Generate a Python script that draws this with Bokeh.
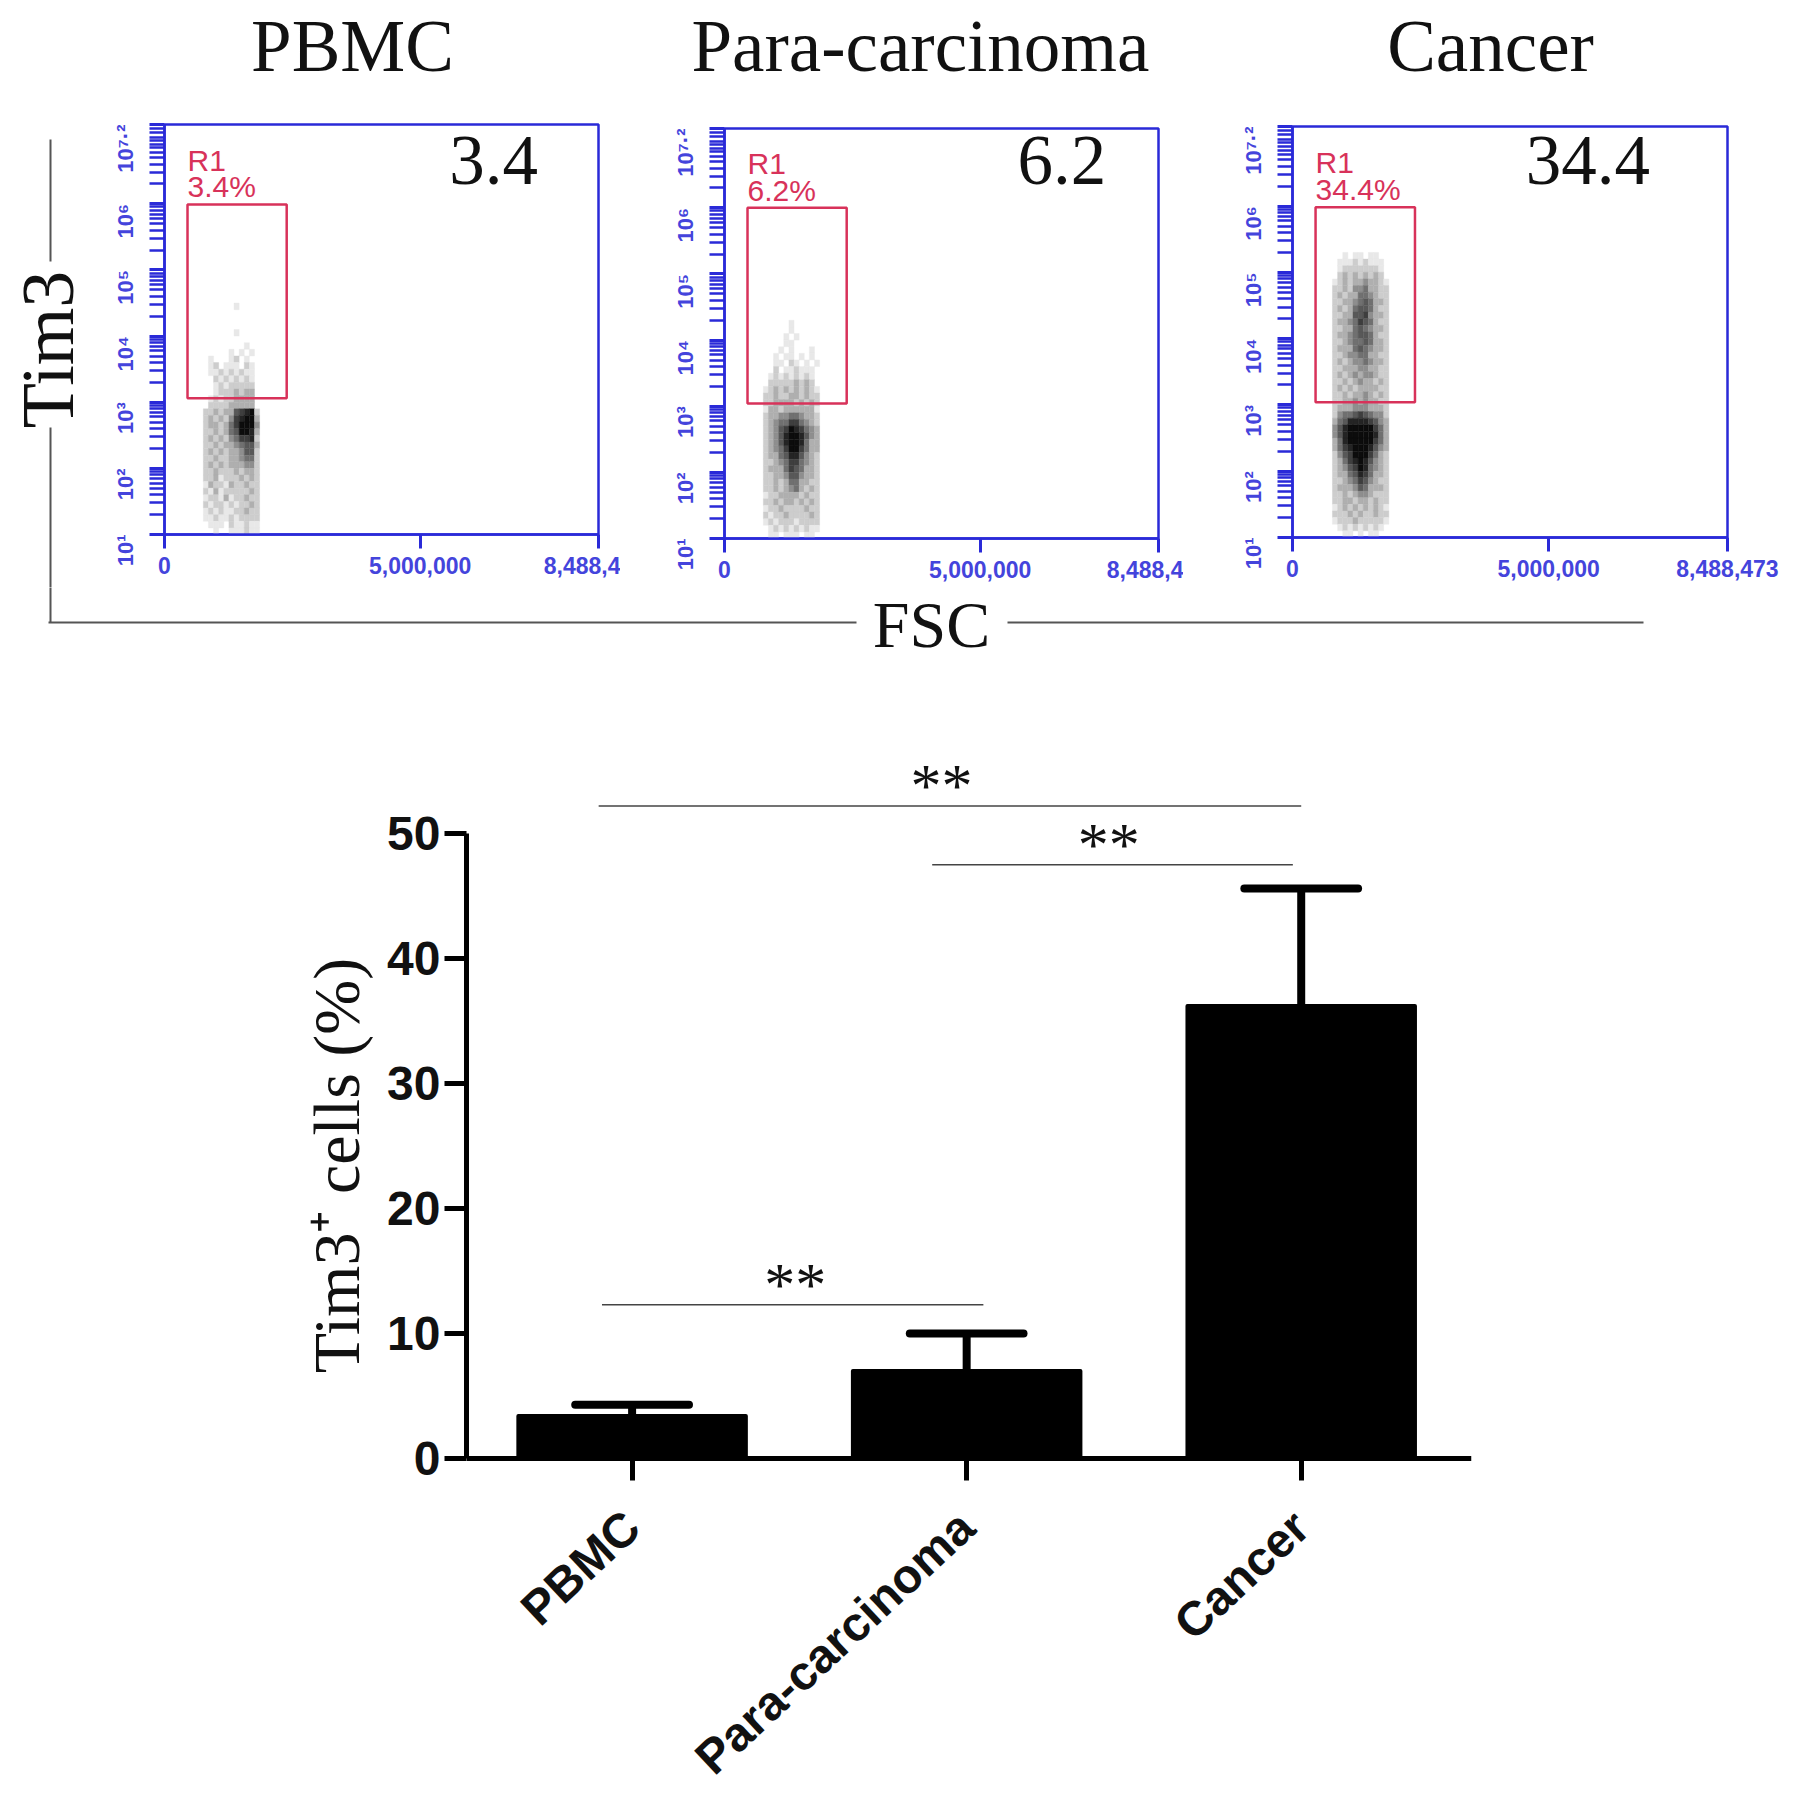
from math import pi
from bokeh.plotting import figure
from bokeh.layouts import column, row
from bokeh.models import Range1d, FixedTicker, Label, NumeralTickFormatter
from bokeh.core.properties import value
from bokeh.embed import file_html
from bokeh.resources import INLINE

SERIF = "Liberation Serif"
SANS = "Liberation Sans"
BLUE = "#2a2ad8"
RED = "#d8325a"
INK = "#111111"
GRAY = "#555555"

# ---- flow panels -----
panel_names = ["PBMC", "Para-carcinoma", "Cancer"]
panel_percent = [3.4, 6.2, 34.4]
fsc_ticks = [0, 5000000, 8488473]
fsc_tick_last = ["8,488,4", "8,488,4", "8,488,473"]
fsc_max = 8488473
exp_max = 7.2
tim3_major = [10, 100, 1000, 10000, 100000, 1000000, 10 ** 7.2]
tim3_labels = ["10¹", "10²", "10³", "10⁴", "10⁵", "10⁶", "10⁷·²"]
gate_fsc = [450000, 2390000]
gate_tim3 = [[10 ** 3.06, 10 ** 5.99], [10 ** 3.04, 10 ** 6.0], [10 ** 3.04, 10 ** 5.98]]
percent_fsc = [5570000, 5730000, 4550000]
percent_exp = [6.66, 6.72, 6.69]
title_center = [352, 920, 1490]

# density levels 0-9: rows top to bottom in 0.1-decade bins
density_start_exp = [4.5, 4.3, 5.4]
density_start_fsc = [760000, 760000, 780000]
density_bin_fsc = 100000
density_pbmc = [
    "00000010000", "00000000000", "00000000000", "00000000000", "00000010000",
    "00000000000", "00000000100", "00000101010", "01000120100", "01201110210",
    "01121212110", "00212121210", "00121222220", "00122232330", "01212233330",
    "02222333330", "22323367892", "23232478993", "23323579994", "22323569983",
    "23232457782", "22323345663", "23232334662", "22322334552", "23232333442",
    "22322232332", "22312223232", "13221322322", "21312222232", "12213122322",
    "21221212232", "12121122322", "11211212222", "01110211211", "00100111211",
]
density_para = [
    "00000100000", "00000100000", "00001010000", "00001100000", "00010100010",
    "00101101010", "00110210101", "00201121110", "01212121210", "02222232320",
    "12323232321", "22322332322", "22333323232", "13323333331", "23344554332",
    "23455775432", "23467987543", "23468998643", "23468998533", "23457997533",
    "23356886432", "22345775432", "23335765332", "22334664332", "22323553322",
    "22323453232", "12233332322", "22323323232", "12232222322", "21223222232",
    "12122212222", "01212121211", "01101110110",
]
density_cancer = [
    "00000000000", "00101101100", "01112121110", "01222222210", "02323232320",
    "12323343321", "22324453322", "23233554322", "22334565332", "23235665322",
    "22336674332", "23345765322", "22335654332", "23345665322", "22345565332",
    "23335654332", "22344553322", "23234454332", "22333443322", "23234344322",
    "22323433232", "23232333322", "22323343232", "22334343322", "23334443332",
    "24556765442", "35688887643", "46899999753", "46899999853", "35899999753",
    "35789998643", "24679997532", "23578986432", "23467985432", "23356875332",
    "22345764322", "23334653332", "22323443222", "22332332322", "12323232321",
    "22232322322", "12223222221", "01212121210", "00110101100",
]
density_all = [density_pbmc, density_para, density_cancer]
level_gray = [255, 232, 205, 175, 142, 112, 88, 62, 36, 12]

# ---- bar chart -----
categories = ["PBMC", "Para-carcinoma", "Cancer"]
means = [3.4, 7.0, 36.2]
upper = [4.3, 10.0, 45.6]
y_ticks = [0, 10, 20, 30, 40, 50]
sig_left = [-0.10, 0.897, -0.09]
sig_right = [2.0, 1.975, 1.05]
sig_y = [52.2, 47.5, 12.3]
sig_text = ["**", "**", "**"]
sig_star_x = [0.925, 1.425, 0.488]
sig_star_y = [53.87, 49.17, 13.97]


def flow_panel(idx, width, left, right, top, bottom):
    p = figure(width=width, height=491, output_backend="svg", toolbar_location=None,
               x_range=Range1d(0, fsc_max), y_range=Range1d(10, 10 ** exp_max),
               y_axis_type="log", min_border_left=left, min_border_right=right,
               min_border_top=top, min_border_bottom=bottom,
               outline_line_color=BLUE, outline_line_width=2.5)
    p.grid.visible = False
    xa, ya = p.xaxis[0], p.yaxis[0]
    xa.ticker = FixedTicker(ticks=fsc_ticks)
    xa.formatter = NumeralTickFormatter(format="0,0")
    xa.major_label_overrides = {fsc_max: fsc_tick_last[idx]}
    minor = []
    for d in range(1, 7):
        for m in range(2, 10):
            minor.append(m * 10.0 ** d)
    minor += [m * 1e7 for m in (1.0, 1.2, 1.4)]
    ya.ticker = FixedTicker(ticks=tim3_major, minor_ticks=minor)
    ya.major_label_overrides = dict(zip(tim3_major, tim3_labels))
    ya.major_label_orientation = pi / 2
    for a in (xa, ya):
        a.axis_line_color = BLUE
        a.axis_line_width = 2.5
        a.major_tick_line_color = BLUE
        a.major_tick_line_width = 3
        a.major_tick_in = 0
        a.minor_tick_in = 0
        a.major_label_text_color = "#4444dc"
        a.major_label_text_font = SANS
        a.major_label_text_font_style = "bold"
    xa.major_tick_out = 14
    xa.minor_tick_line_color = None
    xa.major_label_text_font_size = "23px"
    xa.major_label_standoff = 8
    ya.major_tick_out = 15
    ya.minor_tick_out = 15
    ya.minor_tick_line_color = BLUE
    ya.minor_tick_line_width = 2.5
    ya.major_label_text_font_size = "22px"
    ya.major_label_standoff = 24

    L, R, T, B, C = [], [], [], [], []
    for i, line in enumerate(density_all[idx]):
        for j, c in enumerate(line):
            if c != "0":
                L.append(density_start_fsc[idx] + j * density_bin_fsc)
                R.append(density_start_fsc[idx] + (j + 1) * density_bin_fsc)
                T.append(10 ** (density_start_exp[idx] - i * 0.1))
                B.append(10 ** (density_start_exp[idx] - (i + 1) * 0.1))
                g = level_gray[int(c)]
                C.append(f"#{g:02x}{g:02x}{g:02x}")
    p.quad(left=L, right=R, top=T, bottom=B, fill_color=C, line_color=C, line_width=0.4)

    g = gate_tim3[idx]
    p.quad(left=[gate_fsc[0]], right=[gate_fsc[1]], bottom=[g[0]], top=[g[1]],
           fill_color=None, line_color=RED, line_width=2.5)
    p.text([gate_fsc[0]], [g[1] * 10 ** 0.27], text=[f"{panel_percent[idx]}%"],
           text_color=RED, text_font=value(SANS), text_font_size="30px", text_baseline="alphabetic")
    p.text([gate_fsc[0]], [g[1] * 10 ** 0.67], text=["R1"],
           text_color=RED, text_font=value(SANS), text_font_size="30px", text_baseline="alphabetic")
    p.text([percent_fsc[idx]], [10 ** percent_exp[idx]], text=[str(panel_percent[idx])],
           text_color=INK, text_font=value(SERIF), text_font_size="71px", text_baseline="alphabetic")
    return p


def blank(width, height, xr, yr):
    p = figure(width=width, height=height, output_backend="svg", toolbar_location=None,
               x_range=Range1d(*xr), y_range=Range1d(*yr), x_axis_type=None, y_axis_type=None,
               min_border=0, outline_line_color=None)
    p.grid.visible = False
    return p


def big_text(x, y, text, size, angle=0.0):
    return Label(x=x, y=y, text=text, angle=angle, text_font=SERIF, text_font_size=size,
                 text_color=INK, text_align="center", text_baseline="alphabetic")


title_fig = blank(1795, 96, (0, 1795), (96, 0))
for cx, name in zip(title_center, panel_names):
    title_fig.add_layout(big_text(cx, 46, name, "73px"))

left_fig = blank(90, 491, (0, 90), (587, 96))
left_fig.segment([50, 50], [139, 427], [50, 50], [261, 589], line_color=GRAY, line_width=2)
left_fig.add_layout(big_text(47, 349, "Tim3", "74px", pi / 2))

p1 = flow_panel(0, 530, 74, 22, 28, 53)
p2 = flow_panel(1, 563, 104, 25, 32, 49)
p3 = flow_panel(2, 604, 109, 60, 30, 50)

fsc_fig = blank(1795, 93, (0, 1795), (680, 587))
fsc_fig.segment([50, 48, 1007], [585, 622, 622], [50, 856, 1643], [622, 622, 622], line_color=GRAY, line_width=2)
fsc_fig.add_layout(big_text(931, 624, "FSC", "66px"))

ylab_fig = blank(376, 1110, (0, 376), (1790, 680))
ylab_fig.add_layout(big_text(336, 1165, "Tim3⁺ cells (%)", "66px", pi / 2))

# ---- bars
b = figure(width=1411, height=1110, output_backend="svg", toolbar_location=None,
           x_range=Range1d(-0.495, 2.509), y_range=Range1d(-26.56, 59.84),
           min_border_left=90, min_border_right=316, min_border_top=30, min_border_bottom=0,
           outline_line_color=None)
b.grid.visible = False
pos = list(range(len(categories)))
b.vbar(x=pos, top=means, bottom=0, width=0.68, fill_color="black", line_color="black",
       line_width=4, line_join="round")
b.segment(pos, means, pos, upper, line_color="black", line_width=8)
b.segment([x - 0.17 for x in pos], upper, [x + 0.17 for x in pos], upper,
          line_color="black", line_width=8, line_cap="round")
b.segment(sig_left, sig_y, sig_right, sig_y, line_color="#444444", line_width=1.5)
b.text(sig_star_x, sig_star_y, text=sig_text, text_align="center", text_baseline="alphabetic",
       text_font=value(SERIF), text_font_size="62px", text_color=INK)
xa, ya = b.xaxis[0], b.yaxis[0]
xa.ticker = FixedTicker(ticks=pos)
xa.major_label_overrides = dict(zip(pos, categories))
xa.major_label_orientation = 0.75
xa.fixed_location = 0
ya.ticker = FixedTicker(ticks=y_ticks)
ya.bounds = (0, 50)
for a in (xa, ya):
    a.axis_line_width = 5
    a.axis_line_color = "black"
    a.major_tick_line_width = 5
    a.major_tick_line_color = "black"
    a.major_tick_in = 0
    a.major_tick_out = 22
    a.minor_tick_line_color = None
    a.major_label_text_font = SANS
    a.major_label_text_font_style = "bold"
    a.major_label_text_font_size = "48px"
    a.major_label_text_color = INK
ya.major_label_standoff = 4
xa.major_label_standoff = 39


def solo(f):
    return column(f, spacing=0)


page = column(
    title_fig,
    row(solo(left_fig), solo(p1), solo(p2), solo(p3), spacing=0),
    solo(fsc_fig),
    row(solo(ylab_fig), solo(b), spacing=0),
    spacing=0,
)
open("out.html", "w").write(file_html(page, INLINE))
